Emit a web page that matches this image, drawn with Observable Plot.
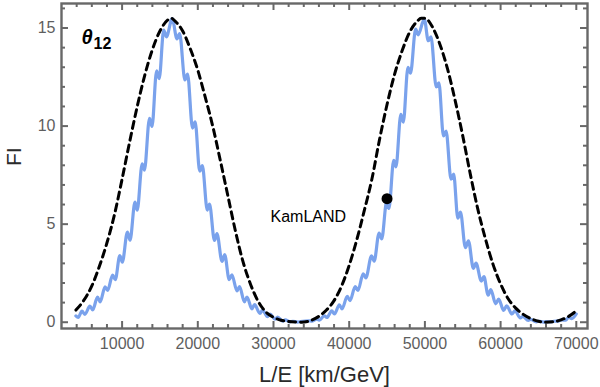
<!DOCTYPE html>
<html><head><meta charset="utf-8">
<script src="https://cdn.jsdelivr.net/npm/d3@7"></script>
<script src="https://cdn.jsdelivr.net/npm/@observablehq/plot@0.6"></script>
<style>body{margin:0;background:#fff}</style>
</head><body><div id="chart"></div>
<script>
// Blue (full) curve
const blueX = [3900,4200,4700,5080,5750,6120,6750,7100,7750,8080,8750,9100,9700,10030,10700,11050,11700,12000,12650,12950,13620,13950,14560,14900,15500,15850,16620,
17250,17600,18300,18650,19300,19650,20250,20600,21250,21550,22200,22530,23200,23550,24150,24500,25180,25520,26150,26500,27150,27500,28200,28550,29200,29550,30200,30550,31200,31550,32200,32550,33200,33550,
34700,35050,35700,36050,36700,37050,37700,38050,38700,39050,39750,40100,40800,41150,41850,42200,42950,43300,43950,44300,44950,45250,45880,46180,46820,47150,47760,48100,48780,49100,49920,
50450,50800,51500,51850,52450,52800,53450,53800,54350,54700,55350,55750,56400,56750,57450,57800,58350,58700,59350,59750,60400,60800,61500,61900,62600,62950,63650,64000,64700,65050,65700,66050,66700,67050,67700,68050,68600,69000,69400,70000];
const blueY = [0.32,0.24,0.57,0.40,0.82,0.63,1.28,1.04,1.80,1.62,2.40,2.17,3.40,3.06,4.60,4.18,6.12,5.72,8.08,7.75,10.40,9.98,12.82,12.42,14.90,14.55,15.48,
14.45,14.72,12.35,12.65,9.90,10.22,7.70,7.98,5.72,6.02,4.17,4.52,3.10,3.45,2.17,2.42,1.60,1.82,1.04,1.28,0.68,0.90,0.45,0.62,0.28,0.42,0.16,0.26,0.06,0.12,0.02,0.05,0.01,0.03,
0.07,0.05,0.16,0.11,0.33,0.24,0.58,0.42,0.88,0.68,1.32,1.10,1.82,1.62,2.46,2.26,3.38,3.12,4.55,4.25,6.15,5.80,8.25,7.92,10.60,10.20,13.00,12.70,14.95,14.65,15.45,
14.35,14.55,12.00,12.20,9.50,9.75,7.30,7.55,5.30,5.62,3.80,4.15,2.75,3.02,2.10,2.32,1.38,1.66,0.94,1.18,0.60,0.84,0.42,0.58,0.22,0.30,0.09,0.14,0.02,0.05,0.01,0.03,0.02,0.05,0.07,0.12,0.10,0.26,0.18,0.42];

// Dashed (smooth) curve
const dashX = [3900,5000,6000,7000,8000,9000,10000,11000,12000,13000,14000,15000,16000,16500,17000,18000,19000,20000,21000,22000,23000,24000,25000,26000,27000,28000,29000,30000,31000,32000,33000,33700,35000,36000,37000,38000,39000,40000,41000,42000,43000,44000,45000,46000,47000,48000,49000,49500,50000,51000,52000,53000,54000,55000,56000,57000,58000,59000,60000,61000,62000,63000,64000,65000,66000,67000,68000,69000,70000];
const dashY = [0.62,1.15,1.85,2.85,4.05,5.5,7.3,9.2,11.0,12.6,13.9,14.85,15.4,15.5,15.35,14.85,13.95,12.85,11.45,9.95,8.2,6.4,4.6,3.05,1.9,1.05,0.52,0.25,0.1,0.04,0.01,0.0,0.1,0.3,0.62,1.1,1.85,2.9,4.2,5.7,7.3,9.3,11.1,12.65,13.85,14.8,15.35,15.5,15.5,15.05,14.15,12.9,11.3,9.5,7.55,5.75,4.25,2.95,1.95,1.2,0.72,0.4,0.18,0.05,0.0,0.03,0.12,0.3,0.58];

const kamland = [{x: 45000, y: 6.3}];
const annotations = [{x: 34600, y: 5.35, text: "KamLAND"}];

const xMajor = [10000,20000,30000,40000,50000,60000,70000];
const xMinor = [4000,6000,8000,12000,14000,16000,18000,22000,24000,26000,28000,32000,34000,36000,38000,42000,44000,46000,48000,52000,54000,56000,58000,62000,64000,66000,68000];
const yMajor = [0,5,10,15];
const yMinor = [1,2,3,4,6,7,8,9,11,12,13,14,16];

const blue = blueX.map((x, i) => ({x, y: blueY[i]}));
const dashed = dashX.map((x, i) => ({x, y: dashY[i]}));

const W = 600, H = 387, mL = 61, mR = 13, mT = 3, mB = 59;
const fw = W - mL - mR, fh = H - mT - mB;
const gray = "#686868";

const chart = Plot.plot({
  width: W, height: H,
  marginLeft: mL, marginRight: mR, marginTop: mT, marginBottom: mB,
  style: {fontFamily: "'Liberation Sans', Arial, sans-serif", background: "white"},
  x: {domain: [1995, 71480], label: null},
  y: {domain: [-0.32, 16.25], label: null},
  marks: [
    Plot.line(blue, {x: "x", y: "y", stroke: "#7aa2ec", strokeWidth: 3.2, curve: "monotone-x"}),
    Plot.line(dashed, {x: "x", y: "y", stroke: "black", strokeWidth: 3, strokeDasharray: "7,5", curve: "monotone-x"}),
    Plot.dot(kamland, {x: "x", y: "y", r: 5.5, fill: "black"}),
    Plot.text(annotations, {x: "x", y: "y", text: "text", fontSize: 16, fill: "black"}),
    // ticks, inward on all four sides
    Plot.tickX(xMajor, {x: d => d, insetTop: fh - 7, stroke: gray, strokeWidth: 2}),
    Plot.tickX(xMajor, {x: d => d, insetBottom: fh - 7, stroke: gray, strokeWidth: 2}),
    Plot.tickX(xMinor, {x: d => d, insetTop: fh - 4, stroke: gray, strokeWidth: 2}),
    Plot.tickX(xMinor, {x: d => d, insetBottom: fh - 4, stroke: gray, strokeWidth: 2}),
    Plot.tickY(yMajor, {y: d => d, insetRight: fw - 7, stroke: gray, strokeWidth: 2}),
    Plot.tickY(yMajor, {y: d => d, insetLeft: fw - 7, stroke: gray, strokeWidth: 2}),
    Plot.tickY(yMinor, {y: d => d, insetRight: fw - 4, stroke: gray, strokeWidth: 2}),
    Plot.tickY(yMinor, {y: d => d, insetLeft: fw - 4, stroke: gray, strokeWidth: 2}),
    Plot.frame({stroke: gray, strokeWidth: 2.4}),
    Plot.axisX({ticks: xMajor, tickSize: 0, tickPadding: 9, tickFormat: "d", fontSize: 16, color: "#5e5e5e", label: null}),
    Plot.axisY({ticks: yMajor, tickSize: 0, tickPadding: 6, tickFormat: "d", fontSize: 16, color: "#5e5e5e", label: null}),
    Plot.text(["L/E [km/GeV]"], {text: d => d, frameAnchor: "bottom", dy: 53, lineAnchor: "bottom", fontSize: 22, fill: "#2a2a2a"}),
    Plot.text(["FI"], {text: d => d, frameAnchor: "left", dx: -47, rotate: -90, fontSize: 21, fill: "#2a2a2a"}),
    Plot.text(["θ"], {text: d => d, frameAnchor: "top-left", dx: 20, dy: 40, lineAnchor: "bottom", textAnchor: "start", fontSize: 20, fontWeight: "bold", fontStyle: "italic", fill: "black"}),
    Plot.text(["12"], {text: d => d, frameAnchor: "top-left", dx: 32, dy: 45, lineAnchor: "bottom", textAnchor: "start", fontSize: 16, fontWeight: "bold", fill: "black"})
  ]
});
document.getElementById("chart").appendChild(chart);
</script>
</body></html>
